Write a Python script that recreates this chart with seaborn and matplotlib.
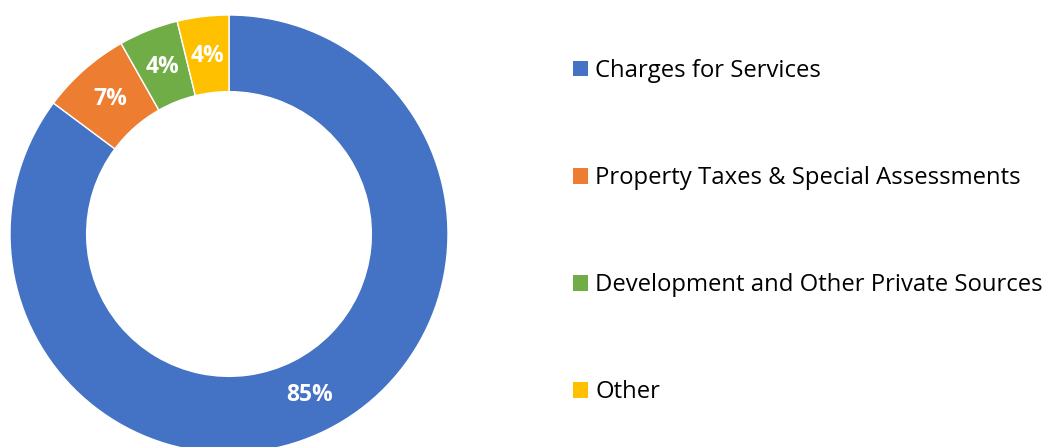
import matplotlib
matplotlib.use("Agg")
import matplotlib.pyplot as plt
import seaborn as sns
import numpy as np
from matplotlib.patches import Patch

sns.set_theme(style="white")
plt.rcParams['font.family'] = ['Open Sans', 'DejaVu Sans']

categories = ['Charges for Services', 'Property Taxes & Special Assessments',
              'Development and Other Private Sources', 'Other']
shares = [85.2, 6.6, 4.4, 3.8]
labels = ['85%', '7%', '4%', '4%']
palette = ['#4472C4', '#ED7D31', '#70AD47', '#FFC000']

fig = plt.figure(figsize=(10.54, 4.47), dpi=100)
W, H = 1054, 447
cx, cy, r = 229, 234, 219
ax = fig.add_axes([(cx - r) / W, (H - cy - r) / H, 2 * r / W, 2 * r / H])

wedges, _ = ax.pie(shares, colors=palette, startangle=90, counterclock=False,
                   radius=1, wedgeprops=dict(width=0.35, edgecolor='white', linewidth=1))
ax.set_xlim(-1, 1)
ax.set_ylim(-1, 1)
ax.set_aspect('equal')
ax.axis('off')

# labels at ring middle
for w, lab in zip(wedges, labels):
    ang = np.deg2rad((w.theta1 + w.theta2) / 2)
    rr = 0.82
    ax.text(rr * np.cos(ang), rr * np.sin(ang), lab, ha='center', va='center',
            color='white', fontsize=16.5, fontweight='bold')

handles = [Patch(facecolor=c, edgecolor='none') for c in palette]
fig.legend(handles, categories, loc='upper left', bbox_to_anchor=(573 / W, 1 - 59 / H),
           frameon=False, fontsize=17.2, handlelength=0.63, handleheight=0.63,
           handletextpad=0.3, labelspacing=3.48, borderpad=0, borderaxespad=0,
           labelcolor='black')

fig.savefig('out.png', dpi=100)
